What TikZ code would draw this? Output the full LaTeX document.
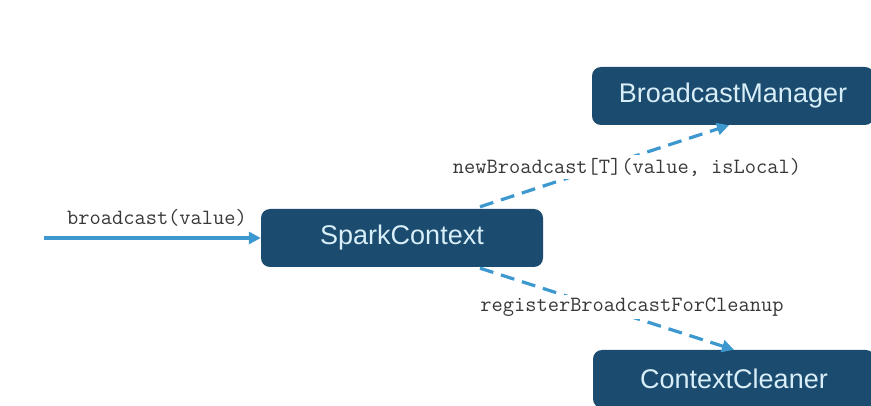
\documentclass[tikz,border=0pt]{standalone}
\usepackage{fontspec}
\setmainfont{Liberation Sans}
\usetikzlibrary{calc}
\usetikzlibrary{math}
\usetikzlibrary{arrows.meta}
\definecolor{boxBlue}{HTML}{1B4B6E}
\definecolor{boxText}{HTML}{D8EEF8}
\definecolor{arrowBlue}{HTML}{3C98CE}
\definecolor{labelGray}{HTML}{383838}
\tikzset{
  compbox/.style={rectangle, rounded corners=9pt, fill=boxBlue, text=boxText,
    minimum width=282pt, minimum height=58pt, inner sep=0pt,
    font=\fontsize{27}{30}\selectfont},
  calllabel/.style={fill=white, text=labelGray, inner sep=3pt,
    font=\ttfamily\fontsize{21.8}{23}\selectfont},
  callarrow/.style={arrowBlue, line width=3.2pt, -{Triangle[length=12pt,width=12pt]}},
  dasharrow/.style={callarrow, dash pattern=on 14pt off 8pt},
}

\begin{document}
\begin{tikzpicture}[x=1pt,y=-1pt]
    \tikzmath {
        \pageW = 871;
        \pageH = 406;
        \dStart = 78;
    }
    \useasboundingbox (0,0) rectangle (\pageW,\pageH);

    \node[compbox] (spark) at (402,238) {SparkContext};
    \node[compbox] (bm) at (733,96) {BroadcastManager};
    \node[compbox] (cc) at (734,379) {ContextCleaner};

    \coordinate (callIn) at (44,238);
    \coordinate (nbStart) at ($(spark.north) + (\dStart, -2)$);
    \coordinate (rbStart) at ($(spark.south) + (\dStart, 1)$);

    \draw[callarrow] (callIn) -- (spark.west);
    \draw[dasharrow] (nbStart) -- ($(bm.south) + (-4, 0)$);
    \draw[dasharrow] (rbStart) -- (cc.north);

    \node[calllabel] (callLbl) at (157,218) {broadcast(value)};
    \node[calllabel] (nbLbl) at (627,167) {newBroadcast[T](value, isLocal)};
    \node[calllabel] (rbLbl) at (632,307) {registerBroadcastForCleanup};
\end{tikzpicture}
\end{document}
